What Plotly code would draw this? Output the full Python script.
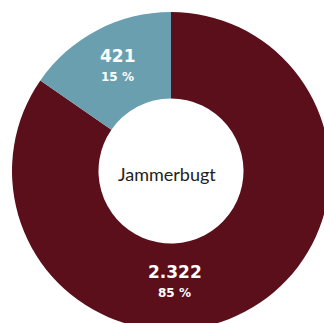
import plotly.graph_objects as go

categories = ["Andet", "Jammerbugt-del"]
values = [2322, 421]
colors = ["#5A0F1B", "#6A9FB0"]
center_label = "Jammerbugt"

# label anchor positions (paper coords): x, y of value, y of percent
label_pos = [(0.512, 0.181, 0.115), (0.332, 0.863, 0.796)]

total = sum(values)

def dk(n):
    return f"{n:,}".replace(",", ".")

fig = go.Figure(go.Pie(
    labels=categories,
    values=values,
    hole=0.456,
    sort=False,
    direction="clockwise",
    rotation=0,
    marker=dict(colors=colors, line=dict(width=0)),
    textinfo="none",
    hoverinfo="skip",
    showlegend=False,
    domain=dict(x=[0, 1], y=[0, 1]),
))

annotations = []
for v, (x, y1, y2) in zip(values, label_pos):
    pct = round(v / total * 100)
    annotations.append(dict(x=x, y=y1, xref="paper", yref="paper", showarrow=False,
                            xanchor="center", yanchor="middle",
                            text=f"<b>{dk(v)}</b>",
                            font=dict(family="DejaVu Sans", size=17, color="white")))
    annotations.append(dict(x=x, y=y2, xref="paper", yref="paper", showarrow=False,
                            xanchor="center", yanchor="middle",
                            text=f"<b>{pct} %</b>",
                            font=dict(family="DejaVu Sans", size=12, color="white")))
annotations.append(dict(x=0.487, y=0.4915, xref="paper", yref="paper", showarrow=False,
                        xanchor="center", yanchor="middle",
                        text=center_label,
                        font=dict(family="Lato", size=18, color="#222222")))

fig.update_layout(
    width=332, height=333,
    margin=dict(l=12, r=2, t=12, b=3),
    paper_bgcolor="white",
    plot_bgcolor="white",
    annotations=annotations,
)

fig.write_html("out.html", config={"displayModeBar": False},
               post_script="document.body.style.margin='0';document.body.style.overflow='hidden';")
